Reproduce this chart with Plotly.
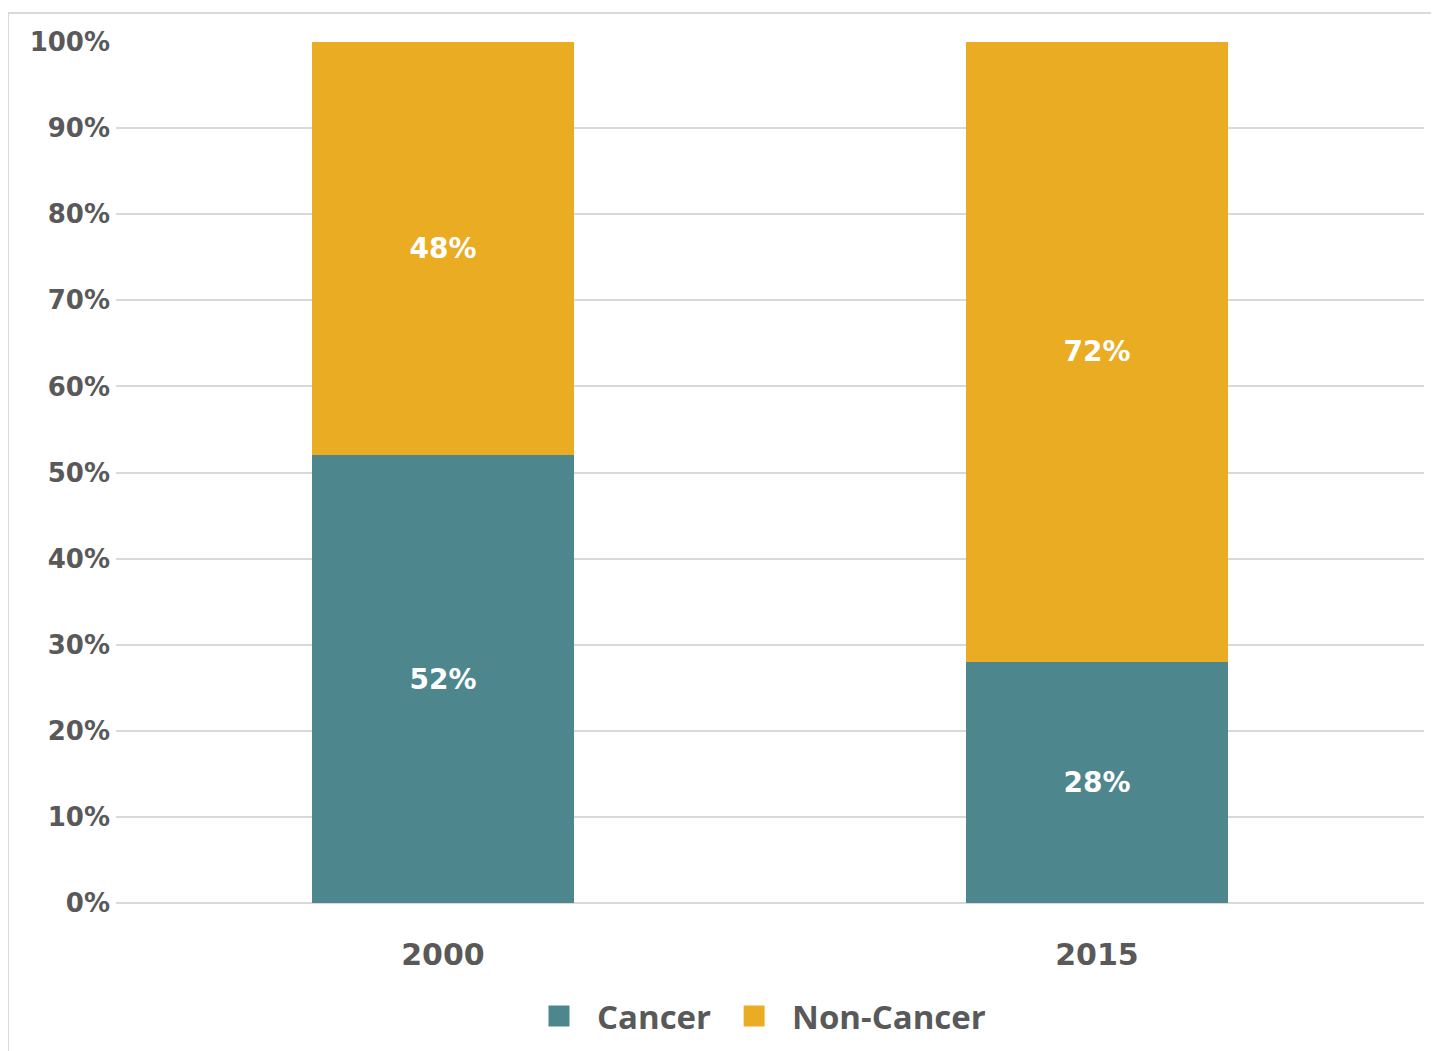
import plotly.graph_objects as go

categories = ["2000", "2015"]
cancer = [52, 28]
non_cancer = [48, 72]
series_names = ["Cancer", "Non-Cancer"]
colors = ["#4e868d", "#e9ac22"]
tick_vals = [0, 10, 20, 30, 40, 50, 60, 70, 80, 90, 100]
tick_text = [f"{v}%" for v in tick_vals]

# page body has an 8px default margin, so the figure is offset by 8px
W, H = 1431, 1043
ml, mr, mt, mb = 108, 15, 34, 148
pw = W - ml - mr
ph = H - mt - mb

fig = go.Figure()
for name, vals, col in zip(series_names, [cancer, non_cancer], colors):
    fig.add_trace(go.Bar(
        x=categories, y=vals, name=name, marker=dict(color=col, line=dict(width=0)),
        text=[f"{v}%" for v in vals], textposition="inside", insidetextanchor="middle",
        textfont=dict(family="DejaVu Sans", size=28, color="white", weight="bold"),
        showlegend=False, width=0.4,
    ))
    fig.add_trace(go.Scatter(
        x=[None], y=[None], mode="markers", name=name,
        marker=dict(symbol="square", size=16, color=col, line=dict(color=col, width=5)),
        showlegend=True,
    ))

# light gray frame lines
bx = (0 - ml) / pw
by = 1 + (mt - 5) / ph
fig.add_shape(type="line", xref="paper", yref="paper", x0=bx, x1=1.2, y0=by, y1=by,
              line=dict(color="#d9d9d9", width=2))
fig.add_shape(type="line", xref="paper", yref="paper", x0=bx, x1=bx, y0=by, y1=-0.3,
              line=dict(color="#d9d9d9", width=2))

fig.update_layout(
    width=W, height=H, barmode="stack", bargap=0.6,
    margin=dict(l=ml, r=mr, t=mt, b=mb, pad=0, autoexpand=False),
    plot_bgcolor="white", paper_bgcolor="white",
    font=dict(family="Open Sans", color="#595959"),
    legend=dict(orientation="h", x=0.5 - 14 / pw, xanchor="center", y=(895 - 1008) / ph, yanchor="middle",
                font=dict(family="Open Sans", size=33, color="#595959", weight="bold"),
                itemwidth=66, itemsizing="trace", traceorder="normal", tracegroupgap=0),
    xaxis=dict(type="category", range=[-0.5, 1.5], showgrid=False, showline=False, zeroline=False,
               ticks="", tickfont=dict(family="DejaVu Sans", size=30, color="#595959", weight="bold"),
               ticklabelstandoff=31),
    yaxis=dict(range=[0, 100], tickvals=tick_vals, ticktext=tick_text, showgrid=True,
               gridcolor="#d9d9d9", gridwidth=1.5, zeroline=True, zerolinecolor="#d9d9d9",
               zerolinewidth=1.5, showline=False, ticks="",
               tickfont=dict(family="DejaVu Sans", size=26, color="#595959", weight="bold"),
               ticklabelstandoff=5),
)

fig.write_html("out.html")
